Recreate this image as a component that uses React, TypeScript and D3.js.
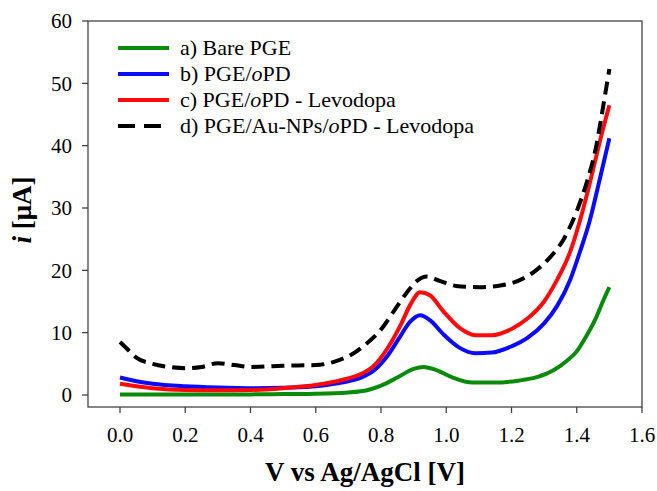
import React from "react";
import * as d3 from "d3";

const xsA = [0, 0.1, 0.2, 0.3, 0.4, 0.5, 0.6, 0.7, 0.76, 0.8, 0.85, 0.9, 0.93, 0.97, 1.02, 1.08, 1.15, 1.22, 1.28, 1.33, 1.37, 1.4, 1.43, 1.46, 1.48, 1.5];
const ysA = [0.1, 0.1, 0.1, 0.1, 0.1, 0.15, 0.2, 0.4, 0.8, 1.5, 2.8, 4.2, 4.5, 4.0, 2.8, 2.0, 2.0, 2.3, 2.9, 4.0, 5.5, 7.0, 9.5, 12.5, 15, 17.3];

const xsB = [0, 0.05, 0.1, 0.2, 0.3, 0.4, 0.5, 0.6, 0.68, 0.74, 0.78, 0.82, 0.86, 0.89, 0.92, 0.95, 0.99, 1.04, 1.09, 1.14, 1.2, 1.25, 1.3, 1.34, 1.38, 1.41, 1.44, 1.47, 1.5];
const ysB = [2.8, 2.2, 1.8, 1.4, 1.2, 1.1, 1.15, 1.4, 2.0, 2.8, 4.0, 6.3, 9.5, 11.8, 12.8, 12.0, 9.8, 7.6, 6.7, 6.8, 7.8, 9.2, 11.5, 14.3, 18.5, 23, 28, 34.5, 41.2];

const xsC = [0, 0.05, 0.1, 0.2, 0.3, 0.4, 0.5, 0.6, 0.68, 0.74, 0.78, 0.82, 0.86, 0.89, 0.92, 0.95, 0.99, 1.04, 1.09, 1.14, 1.2, 1.25, 1.3, 1.34, 1.38, 1.41, 1.44, 1.47, 1.5];
const ysC = [1.8, 1.4, 1.1, 0.8, 0.75, 0.8, 1.1, 1.6, 2.4, 3.4, 4.8, 7.5, 11.2, 14.5, 16.5, 16.0, 13.5, 10.8, 9.6, 9.6, 10.6, 12.3, 15, 18.5, 23, 28, 34, 40.5, 46.5];

const xsD = [0, 0.02, 0.05, 0.1, 0.15, 0.2, 0.25, 0.3, 0.35, 0.4, 0.5, 0.6, 0.66, 0.71, 0.75, 0.8, 0.84, 0.88, 0.91, 0.94, 0.98, 1.03, 1.1, 1.17, 1.22, 1.27, 1.32, 1.36, 1.4, 1.43, 1.46, 1.48, 1.5];
const ysD = [8.5, 7.5, 6.0, 5.0, 4.5, 4.3, 4.5, 5.1, 4.8, 4.5, 4.7, 4.8, 5.4, 6.5, 8.0, 10.5, 13.5, 16.5, 18.3, 19.0, 18.3, 17.5, 17.3, 17.6, 18.3, 19.8, 22.2, 25, 29.5, 34, 40, 46, 52.3];

const seriesNames = ["a) Bare PGE", "b) PGE/", "c) PGE/", "d) PGE/Au-NPs/"];
const seriesColors = ["#0a8a0a", "#0a0aff", "#ff0a0a", "#000000"];

const xTicks = [0, 0.2, 0.4, 0.6, 0.8, 1.0, 1.2, 1.4, 1.6];
const yTicks = [0, 10, 20, 30, 40, 50, 60];

const W = 657, H = 491;
const left = 88, right = 642, top = 21, bottom = 407;

export default function App() {
  const x = d3.scaleLinear().domain([0, 1.6]).range([120, 642]);
  const y = d3.scaleLinear().domain([0, 60]).range([395, 21]);
  const line = d3.line<[number, number]>().x(d => x(d[0])).y(d => y(d[1])).curve(d3.curveMonotoneX);
  const data = [
    xsA.map((v, i) => [v, ysA[i]] as [number, number]),
    xsB.map((v, i) => [v, ysB[i]] as [number, number]),
    xsC.map((v, i) => [v, ysC[i]] as [number, number]),
    xsD.map((v, i) => [v, ysD[i]] as [number, number]),
  ];
  const font = "'Liberation Serif', 'Times New Roman', serif";
  const legendY = [48, 74, 100, 126];
  return (
    <svg width={W} height={H} style={{ position: "absolute", left: 0, top: 0, background: "#fff" }} fontFamily={font}>
      <rect x={0} y={0} width={W} height={H} fill="#fff" />
      {data.map((d, i) => (
        <path key={i} d={line(d) || ""} fill="none" stroke={seriesColors[i]} strokeWidth={4}
          strokeDasharray={i === 3 ? "13 7" : undefined} strokeLinejoin="round" />
      ))}
      <rect x={left} y={top} width={right - left} height={bottom - top} fill="none" stroke="#444" strokeWidth={1.3} />
      {yTicks.map(t => (
        <g key={t}>
          <line x1={left - 6} x2={left} y1={y(t)} y2={y(t)} stroke="#444" strokeWidth={1.3} />
          <text x={72} y={y(t)} dy="0.35em" textAnchor="end" fontSize={21}>{t}</text>
        </g>
      ))}
      {xTicks.map(t => (
        <g key={t}>
          <line x1={x(t)} x2={x(t)} y1={bottom} y2={bottom + 6} stroke="#444" strokeWidth={1.3} />
          <text x={x(t)} y={442} textAnchor="middle" fontSize={21}>{t.toFixed(1)}</text>
        </g>
      ))}
      <text x={365} y={481} textAnchor="middle" fontSize={27} fontWeight="bold">V vs Ag/AgCl [V]</text>
      <text transform="translate(31,210) rotate(-90)" textAnchor="middle" fontSize={27} fontWeight="bold">
        <tspan fontStyle="italic">i</tspan> [μA]
      </text>
      {seriesNames.map((n, i) => (
        <g key={i}>
          <line x1={118} x2={169} y1={legendY[i]} y2={legendY[i]} stroke={seriesColors[i]} strokeWidth={4}
            strokeDasharray={i === 3 ? "17 9" : undefined} />
          <text x={180} y={legendY[i]} dy="0.33em" fontSize={22}>
            {n}
            {i >= 1 && <tspan fontStyle="italic">o</tspan>}
            {i >= 1 && "PD"}
            {i >= 2 && " - Levodopa"}
          </text>
        </g>
      ))}
    </svg>
  );
}
